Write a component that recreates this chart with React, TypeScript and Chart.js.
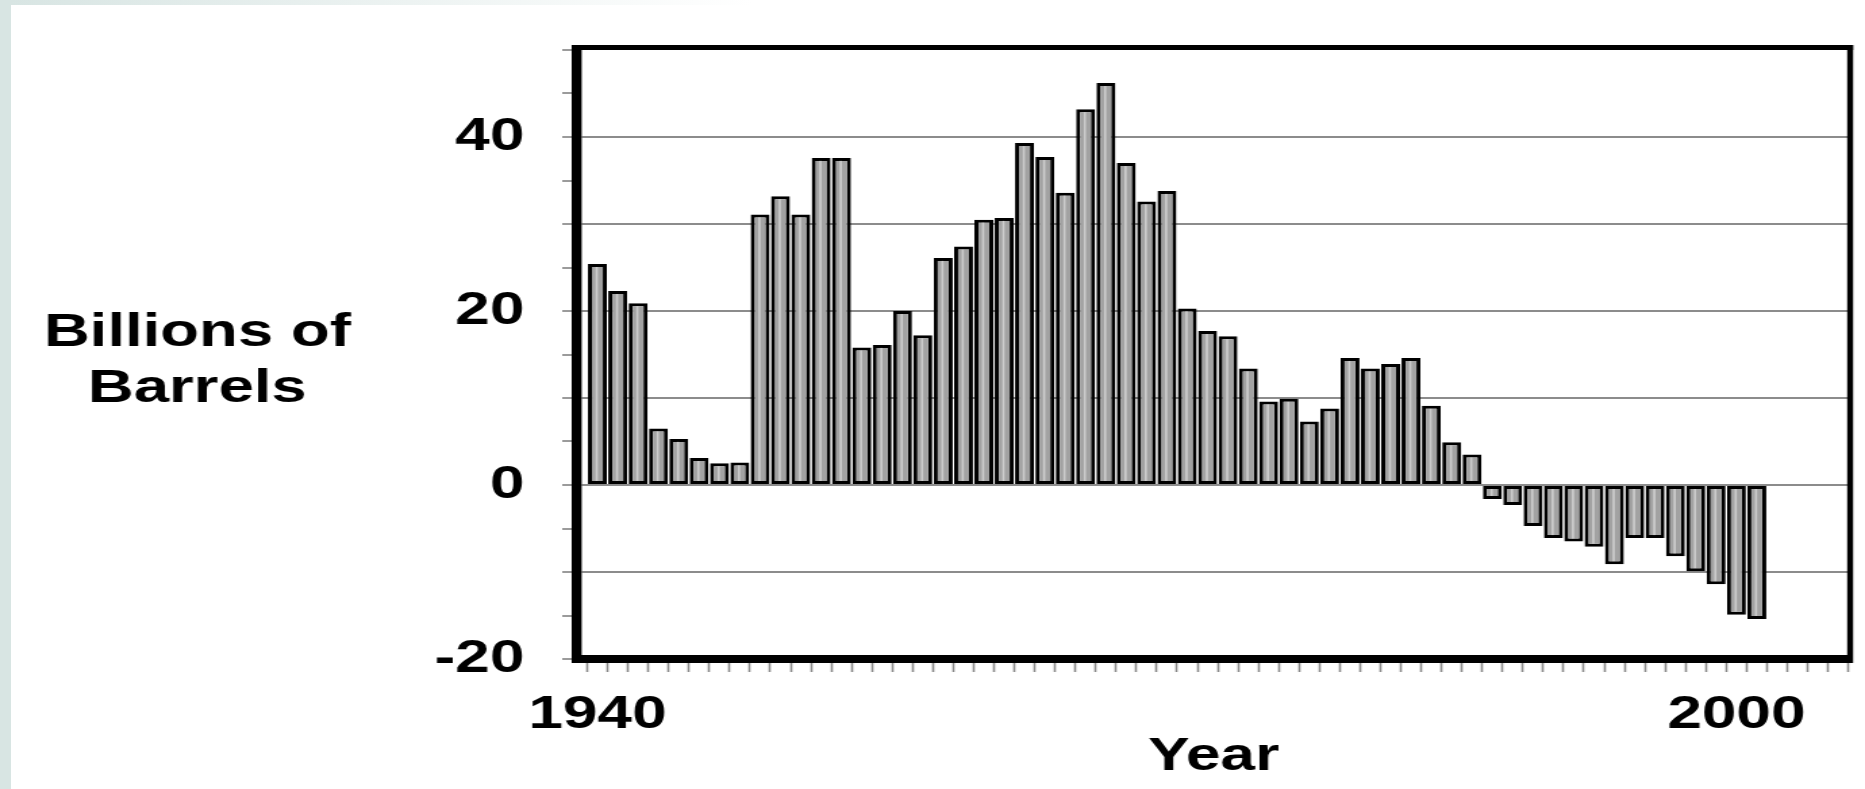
import React, { useEffect, useRef } from 'react';
import { Chart, registerables } from 'chart.js';

Chart.register(...registerables);

// ---------------- data ----------------
const years = [
  1940, 1941, 1942, 1943, 1944, 1945, 1946, 1947, 1948, 1949,
  1950, 1951, 1952, 1953, 1954, 1955, 1956, 1957, 1958, 1959,
  1960, 1961, 1962, 1963, 1964, 1965, 1966, 1967, 1968, 1969,
  1970, 1971, 1972, 1973, 1974, 1975, 1976, 1977, 1978, 1979,
  1980, 1981, 1982, 1983, 1984, 1985, 1986, 1987, 1988, 1989,
  1990, 1991, 1992, 1993, 1994, 1995, 1996, 1997,
];

const billionsOfBarrels = [
  25.4, 22.3, 20.9, 6.5, 5.3, 3.1, 2.5, 2.6, 31.1, 33.2,
  31.1, 37.6, 37.6, 15.8, 16.1, 20.0, 17.2, 26.1, 27.4, 30.5,
  30.7, 39.3, 37.7, 33.6, 43.2, 46.2, 37.0, 32.6, 33.8, 20.3,
  17.7, 17.1, 13.4, 9.6, 9.9, 7.3, 8.8, 14.6, 13.4, 13.9,
  14.6, 9.1, 4.9, 3.5, -1.6, -2.3, -4.7, -6.1, -6.5, -7.1,
  -9.1, -6.1, -6.1, -8.2, -9.9, -11.4, -14.9, -15.4,
];

// x axis: one tick per yearly slot, with two labelled slots
const xAxisStart = 1939;
const xAxisEnd = 2001.59;
const xTickSlots = [
  1939, 1940, 1941, 1942, 1943, 1944, 1945, 1946, 1947, 1948, 1949,
  1950, 1951, 1952, 1953, 1954, 1955, 1956, 1957, 1958, 1959,
  1960, 1961, 1962, 1963, 1964, 1965, 1966, 1967, 1968, 1969,
  1970, 1971, 1972, 1973, 1974, 1975, 1976, 1977, 1978, 1979,
  1980, 1981, 1982, 1983, 1984, 1985, 1986, 1987, 1988, 1989,
  1990, 1991, 1992, 1993, 1994, 1995, 1996, 1997, 1998, 1999,
  2000, 2001,
];
const xLabelSlots = [1940, 1996];
const xLabelTexts = ['1940', '2000'];

// y axis
const yMin = -20;
const yMax = 50;
const yTickStep = 5;
const yLabelValues = [40, 20, 0, -20];
const yGridValues = [40, 30, 20, 10, 0, -10];

const yTitleLines = ['Billions of', 'Barrels'];
const xTitleText = 'Year';

// ---------------- layout / style ----------------
const PAGE_W = 1865;
const PAGE_H = 789;
const CANVAS_W = 1380; // drawn narrower, then stretched horizontally like the reference
const FONT = "'Liberation Sans', Arial, Helvetica, sans-serif";

const yTitleStyle = { x: 146, baselines: [346, 402], size: 47 };

const zeroScalePadding = (scale: any) => {
  scale.paddingTop = 0;
  scale.paddingBottom = 0;
  scale.paddingLeft = 0;
  scale.paddingRight = 0;
};

const frameLines = {
  id: 'frameLines',
  afterDraw(chart: any) {
    const { ctx, chartArea } = chart;
    const { left, right, top, bottom } = chartArea;
    ctx.save();
    ctx.strokeStyle = '#000';
    ctx.lineCap = 'butt';
    // top border
    ctx.lineWidth = 5;
    ctx.beginPath();
    ctx.moveTo(left - 4, top - 2.5);
    ctx.lineTo(right + 2.2, top - 2.5);
    ctx.stroke();
    // right border
    ctx.lineWidth = 4.4;
    ctx.beginPath();
    ctx.moveTo(right, top - 5);
    ctx.lineTo(right, bottom + 4);
    ctx.stroke();
    ctx.restore();
  },
};

const barSheen = {
  id: 'barSheen',
  afterDatasetsDraw(chart: any) {
    const meta = chart.getDatasetMeta(0);
    const ctx = chart.ctx;
    ctx.save();
    ctx.fillStyle = 'rgba(212,212,212,0.85)';
    meta.data.forEach((el: any) => {
      const p = el.getProps(['x', 'y', 'base', 'width'], true);
      const t = Math.min(p.y, p.base) + 3;
      const b = Math.max(p.y, p.base) - 3;
      if (b - t > 1) ctx.fillRect(p.x - p.width * 0.1, t, p.width * 0.12, b - t);
    });
    ctx.restore();
  },
};

const yTitle = {
  id: 'yTitle',
  afterDraw(chart: any) {
    const ctx = chart.ctx;
    ctx.save();
    ctx.fillStyle = '#000';
    ctx.font = `bold ${yTitleStyle.size}px ${FONT}`;
    ctx.textAlign = 'center';
    ctx.textBaseline = 'alphabetic';
    yTitleLines.forEach((line, i) => {
      ctx.fillText(line, yTitleStyle.x, yTitleStyle.baselines[i]);
    });
    ctx.restore();
  },
};

export default function App() {
  const canvasRef = useRef<HTMLCanvasElement | null>(null);

  useEffect(() => {
    const canvas = canvasRef.current;
    if (!canvas) return;
    const chart = new Chart(canvas, {
      type: 'bar',
      data: {
        labels: years,
        datasets: [
          {
            data: billionsOfBarrels,
            backgroundColor: '#a2a2a2',
            borderColor: '#000000',
            borderWidth: 3,
            borderSkipped: false,
            barPercentage: 0.93,
            categoryPercentage: 1.0,
          },
        ],
      },
      options: {
        responsive: false,
        animation: false,
        devicePixelRatio: 1,
        layout: { padding: { top: 50, right: 11, left: 0, bottom: 0 } },
        plugins: {
          legend: { display: false },
          tooltip: { enabled: false },
          title: { display: false },
        },
        scales: {
          x: {
            type: 'linear',
            min: xAxisStart,
            max: xAxisEnd,
            bounds: 'data',
            offset: false,
            afterBuildTicks: (scale: any) => {
              scale.ticks = xTickSlots.map((v) => ({ value: v }));
            },
            afterFit: (scale: any) => {
              scale.height = 130;
              zeroScalePadding(scale);
            },
            border: { display: true, width: 8, color: '#000' },
            grid: {
              drawOnChartArea: false,
              drawTicks: true,
              tickLength: 13,
              tickColor: '#8a8a8a',
              tickWidth: 1.6,
            },
            ticks: {
              autoSkip: false,
              maxRotation: 0,
              minRotation: 0,
              padding: 16,
              color: '#000',
              font: { family: FONT, size: 46, weight: 'bold' },
              callback: (value: any) => {
                const i = xLabelSlots.indexOf(Number(value));
                return i >= 0 ? xLabelTexts[i] : '';
              },
            },
            title: {
              display: true,
              text: xTitleText,
              color: '#000',
              font: { family: FONT, size: 46, weight: 'bold' },
              padding: { top: 0, bottom: 4.5 },
            },
          },
          y: {
            min: yMin,
            max: yMax,
            afterFit: (scale: any) => {
              scale.width = 427;
              zeroScalePadding(scale);
            },
            border: { display: true, width: 7.4, color: '#000' },
            grid: {
              color: (ctx: any) =>
                ctx.tick && yGridValues.includes(ctx.tick.value) ? '#8c8c8c' : 'rgba(0,0,0,0)',
              lineWidth: 2,
              drawTicks: true,
              tickLength: 11,
              tickColor: '#7a7a7a',
              tickWidth: 1.5,
            },
            ticks: {
              stepSize: yTickStep,
              autoSkip: false,
              padding: 28,
              color: '#000',
              font: { family: FONT, size: 46, weight: 'bold' },
              callback: (value: any) =>
                yLabelValues.includes(Number(value)) ? String(value) : '',
            },
          },
        },
      },
      plugins: [barSheen, frameLines, yTitle],
    } as any);
    return () => chart.destroy();
  }, []);

  return (
    <div
      style={{
        position: 'fixed',
        left: 0,
        top: 0,
        width: PAGE_W,
        height: PAGE_H,
        overflow: 'hidden',
        background: '#d8e5e3',
      }}
    >
      <div
        style={{
          position: 'absolute',
          left: 11,
          top: 5,
          right: 0,
          bottom: 0,
          background: '#ffffff',
        }}
      />
      <div
        style={{
          position: 'absolute',
          left: 11,
          top: 0,
          right: 0,
          height: 5,
          background: 'linear-gradient(to right, #d8e5e3 0%, #ffffff 40%)',
        }}
      />
      <canvas
        ref={canvasRef}
        width={CANVAS_W}
        height={PAGE_H}
        style={{
          position: 'absolute',
          left: 0,
          top: 0,
          width: PAGE_W + 'px',
          height: PAGE_H + 'px',
        }}
      />
    </div>
  );
}
